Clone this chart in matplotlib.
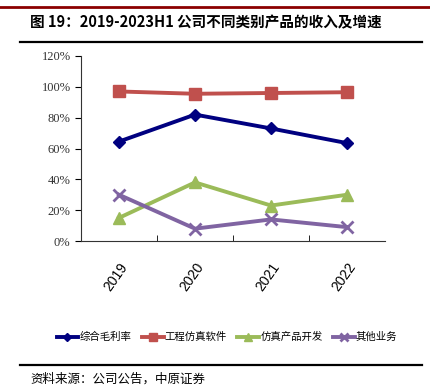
import numpy as np
import matplotlib.pyplot as plt
from matplotlib.lines import Line2D

plt.rcParams['font.family'] = ['Noto Sans CJK SC', 'DejaVu Sans']

years = ['2019', '2020', '2021', '2022']
gross_margin = [64.5, 82, 73, 63.5]
software = [97, 95.5, 96, 96.5]
products = [15, 38, 23, 30]
others = [30, 8, 14, 9]

names = ['综合毛利率', '工程仿真软件', '仿真产品开发', '其他业务']
colors = ['#000080', '#C0504D', '#9BBB59', '#8064A2']
markers = ['D', 's', '^', 'x']
sizes = [6, 9, 8, 8]

fig = plt.figure(figsize=(4.30, 3.88), dpi=100)

# header / footer decoration
fig.add_artist(Line2D([0, 1], [1 - 7/388, 1 - 7/388], color='#8B0000', lw=2))
fig.add_artist(Line2D([20/430, 422/430], [1 - 42/388, 1 - 42/388], color='black', lw=1.6))
fig.add_artist(Line2D([20/430, 422/430], [1 - 365/388, 1 - 365/388], color='black', lw=1.6))
fig.text(30/430, 1 - 22/388, '图 19：2019-2023H1 公司不同类别产品的收入及增速',
         fontsize=10.5, fontweight='bold', va='center', ha='left')
fig.text(30/430, 1 - 379/388, '资料来源：公司公告，中原证券',
         fontsize=9, va='center', ha='left')

ax = fig.add_axes([81/430, 1 - 241/388, 304/430, 185/388])
x = np.arange(len(years))
series = [gross_margin, software, products, others]
for vals, name, c, m, s in zip(series, names, colors, markers, sizes):
    ax.plot(x, vals, color=c, lw=2.8, marker=m, markersize=s, label=name,
            markeredgewidth=2 if m == 'x' else 1)

ax.set_xlim(-0.5, 3.5)
ax.set_ylim(0, 120)
ax.set_yticks(np.arange(0, 121, 20))
ax.set_yticklabels([f'{v}%' for v in range(0, 121, 20)],
                   fontfamily='Liberation Serif', fontsize=9, color='#333333')
ax.set_xticks(x)
ax.set_xticklabels(years, rotation=55, fontsize=10, fontfamily='Liberation Sans',
                   ha='right', va='top', rotation_mode='anchor')
ax.tick_params(axis='x', length=0, pad=14)
ax.set_xticks([0.5, 1.5, 2.5], minor=True)
ax.tick_params(axis='x', which='minor', direction='in', length=4)
ax.tick_params(axis='y', direction='out', length=4, width=0.8)
for sp in ['top', 'right']:
    ax.spines[sp].set_visible(False)
for sp in ['left', 'bottom']:
    ax.spines[sp].set_color('#333333')

ax.legend(loc='center', bbox_to_anchor=(0.48, -0.52), ncol=4, frameon=False,
          fontsize=7.5, handlelength=2.1, handletextpad=0.1, columnspacing=1.0,
          markerscale=0.7)

fig.savefig('out.png', dpi=100)
